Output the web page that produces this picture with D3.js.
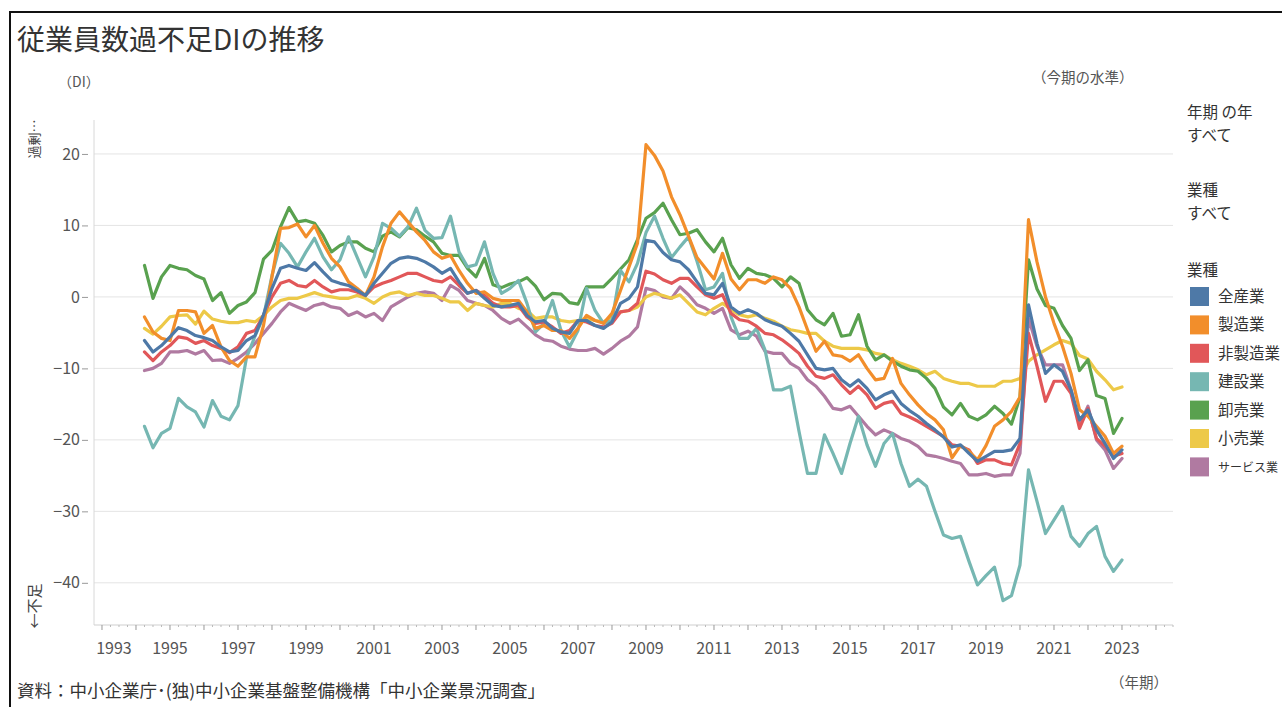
<!DOCTYPE html>
<html>
<head>
<meta charset="utf-8">
<script src="https://cdn.jsdelivr.net/npm/d3@7"></script>
<style>
  body { margin: 0; background: #fff; }
  svg text { font-family: "Noto Sans CJK JP", "Noto Sans", sans-serif; }
  .grid line { stroke: #e4e4e4; }
  .axis--y text, .axis--x text { fill: #555; font-size: 16px; }
  .axis--y line { stroke: #999; }
  .series { fill: none; stroke-width: 3.2; stroke-linejoin: round; stroke-linecap: round; }
</style>
</head>
<body>
<svg id="chart" width="1282" height="707"></svg>
<script>
// quarterly DI, 1994Q2 .. 2023Q1
const firstYear = 1994, firstQuarter = 2

const allIndustries = [
  -6.1, -7.7, -6.8, -5.6, -4.3, -4.7, -5.4, -5.7, -6.1, -7.0, -7.7, -7.5, -6.1, -5.4, -2.5, 1.2, 4.0, 4.4, 4.0, 3.7, 4.8, 3.5, 2.3, 1.9, 1.6, 0.9, 0.2, 1.9, 3.3, 4.7, 5.4,
  5.6, 5.4, 4.9, 4.2, 3.3, 4.0, 2.1, 0.5, 0.9, -0.2, -1.2, -1.4, -1.2, -0.9, -2.6, -3.5, -3.3, -4.4, -4.9, -5.1, -3.3, -3.3, -4.0, -4.4, -3.5, -0.9, -0.2, 1.4, 7.9, 7.7, 6.2,
  5.2, 4.9, 3.8, 2.1, 0.5, 0.3, 1.9, -1.4, -2.3, -1.8, -2.3, -3.2, -3.7, -4.1, -5.1, -6.2, -8.1, -10.0, -10.2, -10.0, -11.6, -12.5, -11.6, -12.8, -14.4, -13.7, -13.2, -14.9, -15.9,
  -16.7, -17.7, -18.6, -19.6, -21.0, -20.7, -21.9, -23.0, -22.3, -21.6, -21.6, -21.4, -19.8, -1.1, -6.5, -10.7, -9.5, -10.4, -13.0, -17.2, -15.8, -18.6, -20.5, -22.6, -21.4
]
const manufacturing = [
  -2.8, -4.9, -5.8, -6.1, -1.9, -1.9, -2.1, -5.1, -4.0, -7.0, -8.9, -9.7, -8.4, -8.4, -4.0, 2.8, 9.6, 9.7, 10.2, 8.4, 10.0, 7.5, 5.4, 4.2, 2.1, 1.2, 0.2, 2.8, 7.0, 10.3, 11.9,
  10.5, 9.1, 7.9, 6.3, 5.4, 5.8, 3.7, 1.9, 0.5, 0.7, -0.2, -0.5, -0.5, -0.5, -2.1, -4.4, -4.0, -4.7, -4.7, -5.8, -4.4, -2.6, -3.3, -3.7, -2.3, 0.9, 4.2, 7.5, 21.3, 19.8, 17.6,
  14.0, 11.5, 8.5, 5.5, 4.0, 2.5, 6.1, 2.5, 1.0, 2.4, 2.4, 1.9, 2.8, 2.4, 1.2, -1.4, -4.6, -7.6, -6.2, -8.1, -8.3, -9.0, -8.1, -10.0, -11.6, -11.4, -8.6, -12.1, -13.7,
  -15.1, -16.3, -17.2, -18.6, -22.5, -20.8, -21.6, -22.8, -20.8, -18.1, -17.2, -16.0, -14.0, 10.8, 4.9, 0.0, -3.7, -6.9, -10.7, -15.8, -16.7, -18.1, -19.5, -21.9, -20.9
]
const nonManufacturing = [
  -7.7, -8.9, -7.7, -6.8, -5.6, -5.8, -6.5, -6.1, -6.8, -7.2, -7.8, -7.0, -5.1, -4.7, -2.6, 0.0, 1.9, 2.3, 1.6, 1.4, 2.3, 1.4, 0.7, 1.0, 1.0, 0.7, 0.2, 1.4, 1.9, 2.3, 2.8,
  3.3, 3.3, 2.8, 2.3, 2.1, 2.8, 1.6, 0.5, 0.9, 0.2, -0.9, -1.4, -1.4, -1.2, -2.8, -3.7, -3.5, -4.2, -5.1, -4.7, -3.3, -3.5, -4.0, -4.2, -3.7, -2.1, -1.9, -0.9, 3.6, 3.2, 2.4,
  1.9, 2.6, 2.6, 1.4, 0.3, -0.2, 0.3, -2.3, -3.2, -3.4, -4.1, -5.1, -5.3, -6.0, -6.9, -7.9, -9.7, -11.1, -11.4, -10.9, -12.3, -13.5, -12.5, -13.7, -15.6, -14.9, -14.6, -16.3, -16.8,
  -17.4, -18.1, -18.8, -19.5, -20.7, -20.9, -21.4, -23.3, -22.8, -22.8, -23.3, -23.5, -20.5, -5.1, -9.7, -14.6, -11.8, -11.8, -13.5, -18.4, -15.6, -19.8, -20.9, -22.3, -21.9
]
const construction = [
  -18.1, -21.1, -19.1, -18.4, -14.2, -15.4, -16.1, -18.2, -14.5, -16.7, -17.2, -15.2, -8.5, -5.5, -2.8, 3.0, 7.5, 6.1, 4.2, 6.3, 8.2, 5.6, 3.8, 5.2, 8.4, 5.6, 2.8, 5.6, 10.3, 9.6, 8.5,
  9.8, 12.4, 9.3, 8.2, 8.3, 11.3, 6.3, 4.2, 4.5, 7.7, 3.3, 0.5, 1.2, 2.3, -0.9, -4.9, -3.7, -0.5, -4.7, -7.0, -4.7, 1.2, -1.9, -3.7, -3.3, 3.7, 2.1, 4.7, 9.0, 11.3, 8.2,
  5.5, 7.0, 8.4, 5.0, 1.0, 1.4, 3.3, -2.8, -5.8, -5.8, -4.4, -7.4, -13.0, -13.0, -12.5, -18.8, -24.7, -24.7, -19.3, -21.9, -24.7, -20.5, -16.7, -20.7, -23.7, -20.5, -19.1, -23.3, -26.5,
  -25.5, -26.5, -30.0, -33.3, -33.8, -33.5, -37.0, -40.3, -39.0, -37.8, -42.5, -41.8, -37.5, -24.2, -28.6, -33.1, -31.2, -29.3, -33.5, -34.9, -33.1, -32.1, -36.3, -38.4, -36.8
]
const wholesale = [
  4.4, -0.2, 2.8, 4.4, 4.0, 3.8, 3.0, 2.5, -0.5, 0.6, -2.3, -1.2, -0.7, 0.6, 5.3, 6.5, 9.8, 12.5, 10.5, 10.7, 10.3, 8.6, 6.3, 7.2, 7.7, 7.7, 6.8, 6.3, 8.5, 9.1, 8.4,
  9.7, 9.4, 8.5, 7.7, 6.1, 5.8, 5.8, 4.0, 2.8, 5.4, 1.7, 1.3, 1.8, 2.1, 2.7, 1.5, -0.4, 0.5, 0.4, -0.8, -1.0, 1.4, 1.4, 1.4, 2.6, 3.9, 5.2, 8.0, 11.0, 11.8, 13.1,
  10.8, 8.7, 8.9, 9.4, 7.7, 6.3, 8.2, 4.5, 2.6, 4.0, 3.3, 3.1, 2.6, 1.4, 2.8, 1.9, -1.8, -3.2, -3.9, -2.3, -5.5, -5.3, -2.5, -6.9, -8.8, -8.1, -9.0, -9.7, -10.2,
  -10.4, -11.4, -12.8, -15.4, -16.5, -14.9, -16.7, -17.2, -16.5, -15.3, -16.3, -17.8, -14.0, 5.2, 1.1, -1.2, -1.6, -4.0, -5.8, -10.3, -8.8, -13.8, -14.2, -19.1, -17.0
]
const retail = [
  -4.4, -5.2, -4.1, -2.8, -2.6, -2.5, -3.8, -2.0, -3.1, -3.4, -3.6, -3.6, -3.3, -3.5, -2.6, -1.4, -0.5, -0.2, -0.2, 0.2, 0.6, 0.2, 0.0, -0.2, -0.2, 0.2, -0.2, -0.9, 0.0, 0.5, 0.7,
  0.2, 0.5, 0.2, 0.2, -0.2, -0.7, -0.7, -1.9, -0.9, -1.2, -1.4, -0.9, -0.9, -1.6, -1.9, -3.0, -2.8, -2.8, -3.3, -3.5, -3.3, -3.0, -3.3, -3.5, -2.8, -2.1, -1.9, -1.4, 0.0, 0.5, 0.2,
  -0.2, 0.3, -0.9, -2.1, -2.5, -1.6, -0.9, -1.8, -2.5, -2.8, -2.5, -3.0, -3.4, -4.1, -4.6, -4.8, -5.1, -5.1, -6.2, -6.9, -7.2, -7.2, -7.2, -7.4, -7.9, -8.1, -8.8, -9.3, -9.7,
  -10.2, -10.9, -10.4, -11.4, -11.8, -12.1, -12.1, -12.5, -12.5, -12.5, -11.8, -11.8, -11.4, -9.0, -8.1, -7.4, -6.7, -6.1, -6.5, -8.2, -8.7, -10.4, -11.6, -13.0, -12.6
]
const services = [
  -10.3, -10.0, -9.3, -7.7, -7.7, -7.5, -8.0, -7.5, -8.9, -8.8, -9.3, -8.6, -7.7, -6.5, -5.1, -3.7, -2.1, -0.9, -1.4, -1.9, -1.2, -0.9, -1.4, -1.6, -2.6, -2.1, -2.8, -2.3, -3.3, -1.4, -0.7,
  0.0, 0.5, 0.7, 0.5, -0.5, 1.6, 0.9, -0.5, -0.9, -1.2, -1.9, -3.0, -3.7, -3.1, -4.2, -5.3, -6.0, -6.2, -6.9, -7.3, -7.5, -7.5, -7.2, -8.0, -7.2, -6.2, -5.5, -4.2, 1.2, 0.9, 0.0,
  -0.2, 1.4, 0.3, -1.1, -1.6, -2.3, -1.6, -4.6, -5.3, -4.8, -5.5, -7.6, -7.9, -7.9, -9.3, -10.0, -11.6, -12.5, -13.9, -15.6, -15.8, -15.3, -16.7, -18.1, -19.3, -18.6, -19.1, -19.8, -20.2,
  -20.9, -22.1, -22.3, -22.6, -23.0, -23.3, -24.9, -24.9, -24.7, -25.1, -24.9, -24.9, -21.9, -3.0, -6.9, -9.5, -9.5, -9.5, -13.0, -17.9, -15.3, -20.0, -21.4, -24.0, -22.6
]

const industryNames = ["全産業", "製造業", "非製造業", "建設業", "卸売業", "小売業", "サービス業"]
const industryValues = [allIndustries, manufacturing, nonManufacturing, construction, wholesale, retail, services]
const industryColours = ["#4e79a7", "#f28e2b", "#e15759", "#76b7b2", "#59a14f", "#edc948", "#b07aa1"]

const yTicks = [-40, -30, -20, -10, 0, 10, 20]
const xLabelYears = d3.range(1993, 2024, 2)

// quarter index -> decimal year (start of quarter)
const periods = allIndustries.map((_, i) => firstYear + (firstQuarter - 1 + i) / 4)

const svg = d3.select("#chart")

// outer frame
svg.append("rect")
  .attr("x", 10).attr("y", 12)
  .attr("width", 1300).attr("height", 720)
  .attr("fill", "none").attr("stroke", "#111").attr("stroke-width", 2)

svg.append("text")
  .attr("x", 17).attr("y", 50)
  .attr("font-size", 28).attr("fill", "#333")
  .text("従業員数過不足DIの推移")

const plot = { left: 94, right: 1173, top: 120, bottom: 625 }

const x = d3.scaleLinear()
  .domain([1992.765, 2024.5])
  .range([plot.left, plot.right])

const y = d3.scaleLinear()
  .domain([-45.9, 24.75])
  .range([plot.bottom, plot.top])

// gridlines
svg.append("g")
  .attr("class", "grid")
  .selectAll("line")
  .data(yTicks)
  .join("line")
  .attr("x1", plot.left).attr("x2", plot.right)
  .attr("y1", d => y(d)).attr("y2", d => y(d))

// y axis
svg.append("line")
  .attr("x1", plot.left).attr("x2", plot.left)
  .attr("y1", plot.top).attr("y2", plot.bottom)
  .attr("stroke", "#d8d8d8")

svg.append("g")
  .attr("class", "axis axis--y")
  .attr("transform", "translate(88,0)")
  .call(d3.axisLeft(y).tickValues(yTicks).tickSize(6).tickPadding(2))
  .call(g => g.select(".domain").remove())
  .call(g => g.selectAll("text").attr("font-family", "'Noto Sans', sans-serif"))

// x axis: quarterly minor ticks, yearly major ticks, labels every 2 years
const xAxis = svg.append("g").attr("class", "axis axis--x")
xAxis.append("line")
  .attr("x1", plot.left).attr("x2", plot.right)
  .attr("y1", plot.bottom).attr("y2", plot.bottom)
  .attr("stroke", "#cfcfcf")
xAxis.selectAll(".minor")
  .data(d3.range(1993, 2024.6, 0.25))
  .join("line")
  .attr("class", "minor")
  .attr("x1", d => x(d)).attr("x2", d => x(d))
  .attr("y1", plot.bottom).attr("y2", d => plot.bottom + (d % 1 === 0 ? 5 : 2))
  .attr("stroke", d => d % 1 === 0 ? "#999" : "#bbb")
xAxis.selectAll("text")
  .data(xLabelYears)
  .join("text")
  .attr("x", (d, i) => x(d) + (i === 0 ? 12 : 0))
  .attr("y", 654)
  .attr("text-anchor", "middle")
  .attr("font-family", "'Noto Sans', sans-serif")
  .text(d => d)

// unit labels
svg.append("text")
  .attr("x", 58).attr("y", 87)
  .attr("font-size", 14).attr("fill", "#555")
  .text("（DI）")
svg.append("text")
  .attr("x", 1032).attr("y", 83)
  .attr("font-size", 14.5).attr("fill", "#555")
  .text("（今期の水準）")
svg.append("text")
  .attr("x", 1110).attr("y", 688)
  .attr("font-size", 14.5).attr("fill", "#555")
  .text("（年期）")

svg.append("text")
  .attr("transform", "translate(39,139) rotate(-90)")
  .attr("text-anchor", "middle")
  .attr("font-size", 13).attr("fill", "#444")
  .text("過剰…")
svg.append("text")
  .attr("transform", "translate(40,606) rotate(-90)")
  .attr("text-anchor", "middle")
  .attr("font-size", 15).attr("fill", "#444")
  .text("←不足")

svg.append("text")
  .attr("x", 17).attr("y", 697)
  .attr("font-size", 17.5).attr("fill", "#333")
  .text("資料：中小企業庁･(独)中小企業基盤整備機構「中小企業景況調査」")

// series lines, first legend entry drawn on top
const line = d3.line()
  .x((d, i) => x(periods[i]))
  .y(d => y(d))

svg.append("g")
  .selectAll("path")
  .data(d3.range(industryNames.length).reverse())
  .join("path")
  .attr("class", "series")
  .attr("stroke", k => industryColours[k])
  .attr("d", k => line(industryValues[k]))

// legend / filter cards
const legend = svg.append("g").attr("font-size", 15.5).attr("fill", "#333")
const cards = [["年期 の年", 118], ["すべて", 141], ["業種", 196], ["すべて", 219], ["業種", 276]]
legend.selectAll(".card")
  .data(cards)
  .join("text")
  .attr("class", "card")
  .attr("x", 1187).attr("y", d => d[1])
  .text(d => d[0])

const item = legend.selectAll(".item")
  .data(industryNames)
  .join("g")
  .attr("class", "item")
  .attr("transform", (d, i) => "translate(1190," + (287 + i * 28.4) + ")")
item.append("rect")
  .attr("width", 19).attr("height", 19)
  .attr("fill", (d, i) => industryColours[i])
item.append("text")
  .attr("x", 28).attr("y", 15)
  .attr("font-size", d => d.length > 4 ? 12 : 15.5)  // keep the long label inside the picture
  .text(d => d)
</script>
</body>
</html>
